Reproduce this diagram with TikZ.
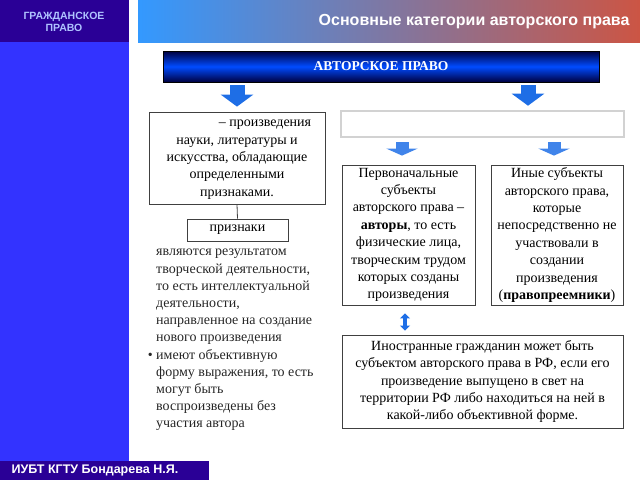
\documentclass[tikz,border=0pt]{standalone}
\usepackage{fontspec}
\setmainfont{Liberation Serif}
\newfontfamily\headfont{Liberation Sans}
\usetikzlibrary{arrows.meta}

\definecolor{sidedark}{RGB}{42,0,150}
\definecolor{sideblue}{RGB}{51,51,255}
\definecolor{headleft}{RGB}{51,153,255}
\definecolor{headright}{RGB}{204,85,68}
\definecolor{arrowblue}{RGB}{30,110,230}
\definecolor{boxline}{RGB}{64,64,64}

\tikzset{
 textbox/.style={draw=boxline, line width=0.8pt, align=center, inner sep=0pt,
  font=\fontsize{14}{17.4}\selectfont},
 bigarrow/.style={arrowblue, line width=15pt, -{Triangle[width=32pt,length=12pt]}},
 smallarrow/.style={arrowblue!85, line width=13pt, -{Triangle[width=31pt,length=7pt]}},
 dblarrow/.style={arrowblue, line width=4pt,
  {Triangle[width=10pt,length=5pt]}-{Triangle[width=10pt,length=5pt]}}
}

\begin{document}
\begin{tikzpicture}[x=1pt,y=-1pt]
 \useasboundingbox (0,0) rectangle (640,480);
 % side bar and header
 \fill[sidedark] (0,0) rectangle (129,42);
 \fill[sideblue] (0,42) rectangle (129,461);
 \fill[sidedark] (0,461) rectangle (209,480);
 \shade[left color=headleft, right color=headright] (138,0) rectangle (640,42);
 \node[align=center, text={rgb,255:red,175;green,195;blue,255},
  font=\headfont\bfseries\fontsize{10.5}{12}\selectfont] (sect) at (64,22) {ГРАЖДАНСКОЕ\\ПРАВО};
 \node[anchor=east, white, font=\headfont\bfseries\fontsize{16}{19}\selectfont] (title) at (633,22)
  {Основные категории авторского права};
 \node[anchor=west, white, font=\headfont\bfseries\fontsize{12.5}{14}\selectfont] (author) at (8,470.5)
  {ИУБТ КГТУ Бондарева Н.Я.};

 % main box
 \node[draw=black, line width=0.8pt, minimum width=436pt, minimum height=31pt,
  top color=blue!25!black, bottom color=blue!25!black, middle color={rgb,255:red,0;green,75;blue,255},
  text=white, font=\bfseries\fontsize{13.5}{16}\selectfont] (law) at (381,66.5) {АВТОРСКОЕ ПРАВО};

 % left branch
 \node[textbox, minimum width=176pt, minimum height=92pt] (def) at (237,158)
  {\phantom{Объекты} – произведения\\ науки, литературы и\\ искусства, обладающие\\ определенными\\ признаками.};
 \node[textbox, minimum width=101pt, minimum height=22pt] (signs) at (237.5,230) {признаки};
 \draw[boxline, line width=0.8pt] (def.south) -- (signs.north);
 \node[anchor=north west, align=left, inner sep=0pt, text=black!85,
  font=\fontsize{14}{17.2}\selectfont] (feat) at (156,249)
  {являются результатом\\ творческой деятельности,\\ то есть интеллектуальной\\ деятельности,\\
   направленное на создание\\ нового произведения\\ \llap{\textbullet\ }имеют объективную\\
   форму выражения, то есть\\ могут быть\\ воспроизведены без\\ участия автора};

 % right branch
 \node[draw=gray!55!black, line width=0.6pt, double=gray!35, double distance=1.6pt,
  minimum width=283pt, minimum height=26pt] (subj) at (482.5,124) {};
 \node[textbox, minimum width=133pt, minimum height=140pt] (orig) at (408.5,235)
  {Первоначальные\\ субъекты\\ авторского права –\\ \textbf{авторы}, то есть\\ физические лица,\\
   творческим трудом\\ которых созданы\\ произведения};
 \node[textbox, minimum width=132pt, minimum height=140pt] (other) at (557,235)
  {Иные субъекты\\ авторского права,\\ которые\\ непосредственно не\\ участвовали в\\ создании\\
   произведения\\ (\textbf{правопреемники})};
 \node[textbox, minimum width=281pt, minimum height=93pt] (foreign) at (482.5,381.5)
  {Иностранные гражданин может быть\\ субъектом авторского права в РФ, если его\\
   произведение выпущено в свет на\\ территории РФ либо находиться на ней в\\ какой-либо объективной форме.};

 % arrows
 \coordinate (rtip) at (528,0);
 \coordinate (ltip) at (402,0);
 \coordinate (otip) at (554,0);
 \coordinate (dtip) at (405,0);
 \draw[bigarrow, shorten <=3pt, shorten >=5pt] (def.north |- law.south) -- (def.north);
 \draw[bigarrow, shorten <=3pt, shorten >=5pt] (law.south -| rtip) -- (subj.north -| rtip);
 \draw[smallarrow, shorten <=5pt, shorten >=9pt] (subj.south -| ltip) -- (orig.north -| ltip);
 \draw[smallarrow, shorten <=5pt, shorten >=9pt] (subj.south -| otip) -- (other.north -| otip);
 \draw[dblarrow, shorten <=8pt, shorten >=4pt] (orig.south -| dtip) -- (foreign.north -| dtip);
\end{tikzpicture}
\end{document}
